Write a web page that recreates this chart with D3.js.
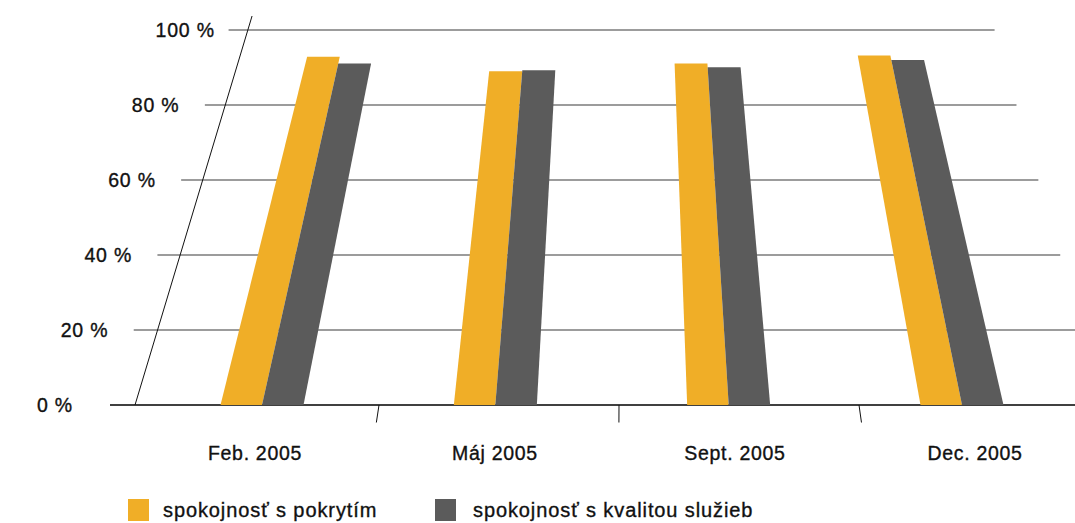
<!DOCTYPE html>
<html>
<head>
<meta charset="utf-8">
<script src="https://cdn.jsdelivr.net/npm/d3@7/dist/d3.min.js"></script>
<style>
  html, body { margin: 0; padding: 0; background: #fff; }
  svg { display: block; }
  text { font-family: "Liberation Sans", Arial, Helvetica, sans-serif; fill: #111; stroke: #111; stroke-width: 0.35px; }
</style>
</head>
<body>
<svg id="chart" width="1075" height="523"></svg>
<script>
const categories = ["Feb. 2005", "Máj 2005", "Sept. 2005", "Dec. 2005"];
const seriesNames = ["spokojnosť s pokrytím", "spokojnosť s kvalitou služieb"];
const pokrytim = [92.9, 89.0, 91.1, 93.2];
const kvalitou = [91.1, 89.3, 90.1, 92.0];
const yTicks = [0, 20, 40, 60, 80, 100];
const yTickLabels = ["0 %", "20 %", "40 %", "60 %", "80 %", "100 %"];

const colors = ["#F0AE27", "#5B5B5B"];
const svg = d3.select("#chart");

// perspective: floor line at y = Y0, vanishing point (VX, VY)
const VX = 627, VY = -1230, Y0 = 405;
const px = (u, y) => VX + (u - VX) * (y - VY) / (Y0 - VY);

const y = d3.scaleLinear().domain([0, 100]).range([405, 30]);
const band = d3.scaleBand().domain(categories).range([139, 1099]);
const group = d3.scalePoint().domain(categories).range([262, 962]);
const barW = 41.5;
const sub = d3.scaleBand().domain(seriesNames).range([-barW, barW]);

const floorLeft = 110, floorRight = 1104;

// gridlines
svg.append("g").selectAll("line").data(yTicks).join("line")
  .attr("x1", d => px(floorLeft, y(d)))
  .attr("x2", d => px(floorRight, y(d)))
  .attr("y1", d => y(d)).attr("y2", d => y(d))
  .attr("stroke", d => d === 0 ? "#000" : "#3a3a3a")
  .attr("stroke-width", d => d === 0 ? 1.5 : 1.1);

// slanted value axis
svg.append("line")
  .attr("x1", px(135, y(0))).attr("y1", y(0))
  .attr("x2", px(135, 16)).attr("y2", 16)
  .attr("stroke", "#111").attr("stroke-width", 1);

// y tick labels
svg.append("g").selectAll("text").data(yTicks).join("text")
  .attr("x", d => px(floorLeft, y(d)) - 73)
  .attr("y", d => y(d) + 7)
  .attr("font-size", "19.5px")
  .attr("letter-spacing", "0.8px")
  .text((d, i) => yTickLabels[i]);

// category ticks (band boundaries)
const boundaries = categories.slice(1).map(c => band(c));
svg.append("g").selectAll("line").data(boundaries).join("line")
  .attr("x1", d => px(d, Y0)).attr("y1", Y0)
  .attr("x2", d => px(d, Y0 + 17.5)).attr("y2", Y0 + 17.5)
  .attr("stroke", "#111").attr("stroke-width", 1);

// bars
const series = [pokrytim, kvalitou];
const barData = [];
categories.forEach((c, i) => {
  seriesNames.forEach((s, j) => {
    barData.push({ c, s, j, v: series[j][i] });
  });
});
svg.append("g").selectAll("polygon").data(barData).join("polygon")
  .attr("fill", d => colors[d.j])
  .attr("points", d => {
    const u0 = group(d.c) + sub(d.s);
    const u1 = u0 + sub.bandwidth();
    const yt = y(d.v), yb = y(0);
    return [[px(u0, yb), yb], [px(u1, yb), yb], [px(u1, yt), yt], [px(u0, yt), yt]]
      .map(p => p.join(",")).join(" ");
  });

// category labels
svg.append("g").selectAll("text").data(categories).join("text")
  .attr("x", d => band(d) + band.bandwidth() / 2 - 4)
  .attr("y", 459.5)
  .attr("text-anchor", "middle")
  .attr("font-size", "19.5px")
  .attr("letter-spacing", "0.7px")
  .text(d => d);

// legend
const legendX = [128, 435];
const lg = svg.append("g").selectAll("g").data(seriesNames).join("g")
  .attr("transform", (d, i) => `translate(${legendX[i]},499)`);
lg.append("rect").attr("width", 21).attr("height", 22).attr("fill", (d, i) => colors[i]);
lg.append("text").attr("x", (d, i) => i === 0 ? 35 : 38).attr("y", 18)
  .attr("font-size", "20px").attr("letter-spacing", "0.9px")
  .text(d => d);
</script>
</body>
</html>
